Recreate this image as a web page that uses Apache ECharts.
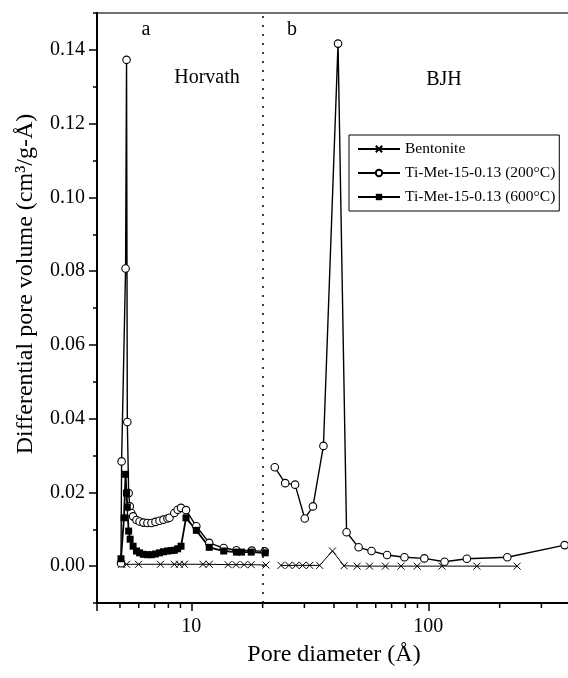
<!DOCTYPE html>
<html><head><meta charset="utf-8">
<script src="https://cdn.jsdelivr.net/npm/echarts@6/dist/echarts.min.js"></script>
<style>html,body{margin:0;padding:0;background:#fff}#c{width:568px;height:678px}</style>
</head><body><div id="c"></div><script>
// ---- data (pore diameter in Å, differential pore volume in cm3/g-Å) ----
const yTickLabels = ['-0.01','0.00','0.01','0.02','0.03','0.04','0.05','0.06','0.07','0.08','0.09','0.10','0.11','0.12','0.13','0.14','0.15'];
const xMinorTicks = [5,6,7,8,9,20,30,40,50,60,70,80,90,200,300];
const dividerX = 20;

const bentoniteHorvath = [[5.08,0.0005],[5.33,0.0005],[5.99,0.0005],[7.41,0.0005],[8.48,0.0005],[8.91,0.0005],[9.35,0.0005],[11.2,0.0005],[11.9,0.0005],[14.3,0.0004],[15.45,0.0004],[16.7,0.0004],[17.9,0.0004],[20.65,0.0003]];
const bentoniteBJH = [[23.9,0.0002],[25.8,0.0002],[27.6,0.0002],[29.5,0.0002],[31.6,0.0002],[34.8,0.0002],[39.4,0.0041],[44.1,0.0001],[50.1,0],[56.5,0],[65.9,0],[76.7,0],[89.7,0],[114.2,0],[160.2,0],[237,0]];

const ti200Horvath = [[5.05,0.0008],[5.08,0.0284],[5.28,0.0807],[5.33,0.1373],[5.37,0.0391],[5.44,0.0198],[5.50,0.0162],[5.58,0.0144],[5.68,0.0135],[5.87,0.0125],[6.05,0.0121],[6.28,0.0118],[6.53,0.0117],[6.79,0.0117],[7.06,0.0120],[7.34,0.0123],[7.63,0.0126],[7.93,0.0129],[8.09,0.0131],[8.48,0.0144],[8.76,0.0153],[9.05,0.0158],[9.50,0.0152],[10.5,0.0108],[11.9,0.0063],[13.7,0.0049],[15.5,0.0043],[18.0,0.0042],[20.4,0.0040]];
const ti200BJH = [[22.5,0.0268],[24.9,0.0225],[27.4,0.0221],[30.1,0.0129],[32.6,0.0162],[36.1,0.0326],[41.6,0.1417],[45.2,0.0092],[50.8,0.0051],[57.6,0.0041],[67.0,0.0030],[79.3,0.0024],[96.2,0.0021],[117.1,0.0012],[145.4,0.0020],[215.4,0.0024],[376,0.0057]];

const ti600Horvath = [[5.05,0.0020],[5.20,0.0131],[5.28,0.0249],[5.33,0.0198],[5.37,0.0160],[5.44,0.0095],[5.52,0.0073],[5.68,0.0054],[5.87,0.0041],[6.05,0.0036],[6.28,0.0032],[6.53,0.0031],[6.79,0.0031],[7.06,0.0033],[7.34,0.0036],[7.63,0.0039],[7.93,0.0041],[8.20,0.0042],[8.48,0.0043],[8.76,0.0047],[9.05,0.0054],[9.50,0.0131],[10.5,0.0097],[11.9,0.0051],[13.7,0.0041],[15.5,0.0038],[16.3,0.0038],[17.9,0.0038],[20.5,0.0036]];

const seriesNames = ['Bentonite','Ti-Met-15-0.13 (200°C)','Ti-Met-15-0.13 (600°C)'];
const yMin = -0.01, yMax = 0.15, xMin = 4, xMax = 400;

// ---- chart ----
const FONT = '"Liberation Serif", "Times New Roman", serif';
const gapPoint = [21.5, '-'];
const chart = echarts.init(document.getElementById('c'), null, {renderer: 'canvas'});
const isMajor = i => i % 2 === 1;
const lineBase = (name, data, symbol, size, itemStyle, lw) => ({
  name, type: 'line', data, symbol, symbolSize: size,
  showSymbol: true, connectNulls: false,
  lineStyle: {color: '#000', width: lw},
  itemStyle, emphasis: {disabled: true}, z: 3
});

chart.setOption({
  animation: false,
  backgroundColor: '#fff',
  grid: {left: 97, top: 13, width: 474, height: 590, containLabel: false, outerBoundsMode: 'none',
         show: true, borderColor: '#444', borderWidth: 1.5, backgroundColor: 'transparent'},
  xAxis: [{
    type: 'log', logBase: 10, min: xMin, max: xMax,
    axisLine: {show: true, onZero: false, lineStyle: {color: '#000', width: 2}},
    axisTick: {show: true, length: 8, lineStyle: {color: '#000', width: 1.5}},
    axisLabel: {
      fontSize: 20, fontFamily: FONT, color: '#000', margin: 14,
      formatter: v => { const l = Math.log10(v); return Math.abs(l - Math.round(l)) < 1e-6 ? String(Math.round(v)) : ''; }
    },
    splitLine: {show: false},
    name: 'Pore diameter (Å)', nameLocation: 'middle', nameGap: 40,
    nameTextStyle: {fontSize: 24, fontFamily: FONT, color: '#000'}
  }],
  yAxis: [{
    type: 'value', min: yMin, max: yMax, interval: 0.01, position: 'left',
    axisLine: {show: true, onZero: false, lineStyle: {color: '#000', width: 2}},
    axisTick: {show: true, length: 4, lineStyle: {color: '#000', width: 1.5}},
    axisLabel: {show: false}, splitLine: {show: false}
  }, {
    type: 'category', data: yTickLabels, boundaryGap: false, position: 'left',
    axisLine: {show: false, onZero: false},
    axisTick: {show: true, length: 8, interval: isMajor, lineStyle: {color: '#000', width: 1.5}},
    axisLabel: {interval: isMajor, fontSize: 20, fontFamily: FONT, color: '#000', margin: 12},
    splitLine: {show: false}
  }],
  legend: {
    orient: 'vertical', left: 349, top: 135,
    itemWidth: 42, itemHeight: 8, itemGap: 8,
    padding: [6, 4, 6, 8],
    borderColor: '#000', borderWidth: 1,
    backgroundColor: '#fff',
    textStyle: {fontSize: 15.5, fontFamily: FONT, color: '#000'},
    data: seriesNames
  },
  graphic: [
    {type: 'text', x: 26, y: 284, rotation: Math.PI / 2,
     style: {text: 'Differential pore volume (cm³/g-Å)', font: '24px ' + FONT, fill: '#000', align: 'center', verticalAlign: 'middle', textAlign: 'center', textVerticalAlign: 'middle'}},
    {type: 'text', x: 146, y: 30, style: {text: 'a', font: '20px ' + FONT, fill: '#000', align: 'center', verticalAlign: 'middle', textAlign: 'center', textVerticalAlign: 'middle'}},
    {type: 'text', x: 292, y: 30, style: {text: 'b', font: '20px ' + FONT, fill: '#000', align: 'center', verticalAlign: 'middle', textAlign: 'center', textVerticalAlign: 'middle'}},
    {type: 'text', x: 207, y: 78, style: {text: 'Horvath', font: '20px ' + FONT, fill: '#000', align: 'center', verticalAlign: 'middle', textAlign: 'center', textVerticalAlign: 'middle'}},
    {type: 'text', x: 444, y: 80, style: {text: 'BJH', font: '20px ' + FONT, fill: '#000', align: 'center', verticalAlign: 'middle', textAlign: 'center', textVerticalAlign: 'middle'}}
  ],
  series: [
    lineBase(seriesNames[0], [...bentoniteHorvath, gapPoint, ...bentoniteBJH],
      'path://M0,0L10,10M10,0L0,10', 7, {color: '#000', borderColor: '#000', borderWidth: 1}, 1),
    Object.assign(lineBase(seriesNames[1], [...ti200Horvath, gapPoint, ...ti200BJH],
      'circle', 7.5, {color: '#fff', borderColor: '#000', borderWidth: 1.1}, 1.4), {
      markLine: {
        silent: true, symbol: ['none', 'none'], label: {show: false},
        lineStyle: {type: [2, 7], color: '#000', width: 1.5},
        data: [{xAxis: dividerX}]
      }
    }),
    lineBase(seriesNames[2], ti600Horvath,
      'rect', 7, {color: '#000', borderColor: '#000', borderWidth: 0}, 1.8),
    {
      type: 'custom', name: 'minorTicks', silent: true, clip: false,
      xAxisIndex: 0, yAxisIndex: 0,
      data: xMinorTicks.map(v => [v, yMin]),
      renderItem: (params, api) => {
        const p = api.coord([api.value(0), api.value(1)]);
        return {type: 'line', shape: {x1: p[0], y1: p[1], x2: p[0], y2: p[1] + 5}, style: {stroke: '#000', lineWidth: 1.5}};
      }
    }
  ]
});
</script></body></html>
